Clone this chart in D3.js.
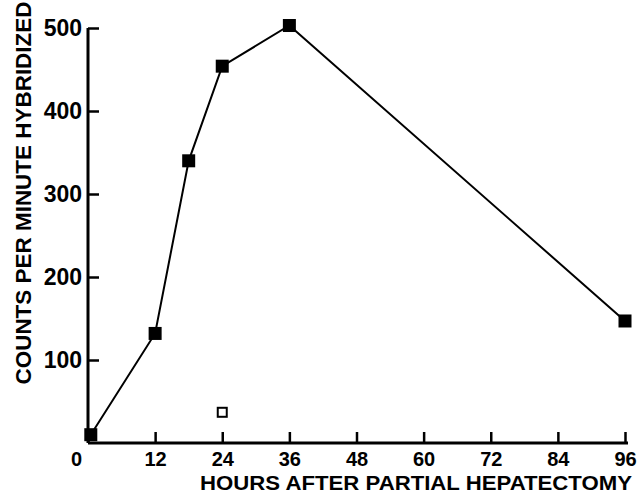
<!DOCTYPE html>
<html>
<head>
<meta charset="utf-8">
<script src="https://cdn.jsdelivr.net/npm/d3@7"></script>
<style>
  body { margin: 0; background: #fff; }
  text { font-family: "Liberation Sans", Arial, sans-serif; font-weight: bold; }
</style>
</head>
<body>
<div id="chart"></div>
<script>
// data
var hours = [0.5, 12, 18, 24, 36, 96];
var counts = [10, 132, 340, 454, 503, 147];
var openHours = [24];
var openCounts = [37];
var xTicks = [0, 12, 24, 36, 48, 60, 72, 84, 96];
var yTicks = [100, 200, 300, 400, 500];

var width = 642, height = 493;
var margin = {top: 28, right: 17, bottom: 50, left: 88};

var svg = d3.select("#chart")
  .append("svg")
    .attr("width", width)
    .attr("height", height);

var x = d3.scaleLinear()
  .domain([0, 96])
  .range([margin.left, width - margin.right]);

var y = d3.scaleLinear()
  .domain([0, 500])
  .range([height - margin.bottom, margin.top]);

// X axis (ticks point up into the plot)
var xAxis = svg.append("g")
  .attr("transform", "translate(0," + y(0) + ")")
  .call(d3.axisBottom(x).tickValues(xTicks).tickSizeInner(-11).tickSizeOuter(0).tickPadding(9));
xAxis.select(".domain").attr("stroke-width", 3).attr("d", "M" + x(0) + ",0H" + (x(96) + 3));
xAxis.selectAll(".tick line").attr("stroke-width", 2.5);
xAxis.selectAll(".tick text")
  .style("font-size", "20px")
  .attr("fill", "#000")
  .attr("dx", function(d) { return d === 0 ? -12 : 0; });

// Y axis (ticks point right)
var yAxis = svg.append("g")
  .attr("transform", "translate(" + x(0) + ",0)")
  .call(d3.axisLeft(y).tickValues(yTicks).tickSizeInner(-11).tickSizeOuter(0).tickPadding(6));
yAxis.select(".domain").attr("stroke-width", 3).attr("d", "M0," + y(0) + "V" + y(500));
yAxis.selectAll(".tick line").attr("stroke-width", 2.5);
yAxis.selectAll(".tick text").style("font-size", "23px").attr("fill", "#000");

// axis titles
svg.append("text")
  .attr("x", 416)
  .attr("y", 490)
  .attr("text-anchor", "middle")
  .attr("textLength", 432)
  .attr("lengthAdjust", "spacingAndGlyphs")
  .style("font-size", "20px")
  .text("HOURS AFTER PARTIAL HEPATECTOMY");

svg.append("text")
  .attr("transform", "translate(31,193) rotate(-90)")
  .attr("text-anchor", "middle")
  .attr("textLength", 383)
  .attr("lengthAdjust", "spacingAndGlyphs")
  .style("font-size", "22px")
  .text("COUNTS PER MINUTE HYBRIDIZED");

// line
var pts = hours.map(function(h, i) { return [h, counts[i]]; });
var line = d3.line()
  .x(function(d) { return x(d[0]); })
  .y(function(d) { return y(d[1]); });

svg.append("path")
  .datum(pts)
  .attr("fill", "none")
  .attr("stroke", "#000")
  .attr("stroke-width", 2)
  .attr("d", line);

// filled squares
var s = 13;
svg.selectAll("rect.filled")
  .data(pts)
  .enter()
  .append("rect")
    .attr("class", "filled")
    .attr("x", function(d) { return x(d[0]) - s / 2; })
    .attr("y", function(d) { return y(d[1]) - s / 2; })
    .attr("width", s)
    .attr("height", s)
    .attr("fill", "#000");

// open square
var o = 9;
svg.selectAll("rect.open")
  .data(openHours.map(function(h, i) { return [h, openCounts[i]]; }))
  .enter()
  .append("rect")
    .attr("class", "open")
    .attr("x", function(d) { return x(d[0]) - o / 2; })
    .attr("y", function(d) { return y(d[1]) - o / 2; })
    .attr("width", o)
    .attr("height", o)
    .attr("fill", "#fff")
    .attr("stroke", "#000")
    .attr("stroke-width", 2);
</script>
</body>
</html>
